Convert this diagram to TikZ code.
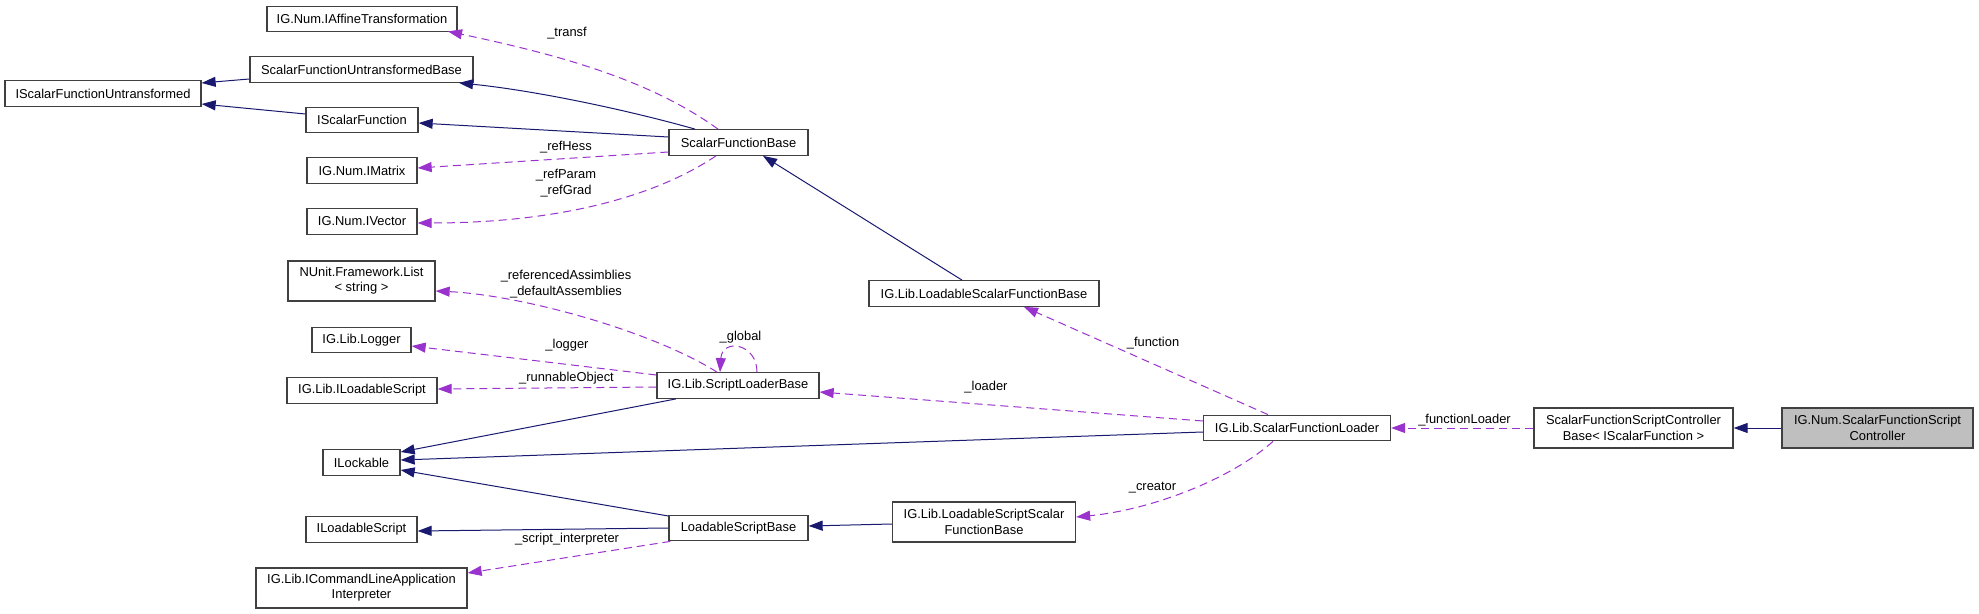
\documentclass[tikz,border=0pt]{standalone}
\usepackage{fontspec}
\setmainfont{Liberation Sans}
\usetikzlibrary{arrows.meta}
\definecolor{navyc}{HTML}{191970}
\definecolor{purp}{HTML}{9A32CD}
\definecolor{boxgray}{HTML}{BFBFBF}
\begin{document}
\begin{tikzpicture}[x=0.5pt,y=-0.5pt,
  font=\fontsize{6.45}{7.65}\selectfont,
  box/.style={draw=black!75, line width=0.65pt, fill=white, inner sep=0pt, minimum height=12.75pt, align=center},
  boxtwo/.style={box, minimum height=20pt},
  inh/.style={draw=navyc, line width=0.5pt, -{Triangle[length=7pt,width=5pt]}},
  use/.style={draw=purp, line width=0.5pt, dash pattern=on 4pt off 2.5pt, -{Triangle[length=7pt,width=5pt]}},
  lbl/.style={inner sep=0pt, align=center}]
\fill[white] (0,0) rectangle (1979,614);
\useasboundingbox (0,0) rectangle (1979,614);
% nodes
\node[box, minimum width=95pt] (aff) at (362,19) {IG.Num.IAffineTransformation};
\node[box, minimum width=111.5pt] (sfub) at (361.5,69.5) {ScalarFunctionUntransformedBase};
\node[box, minimum width=98pt] (isfu) at (103,93.5) {IScalarFunctionUntransformed};
\node[box, minimum width=56pt] (isf) at (362,120) {IScalarFunction};
\node[box, minimum width=55pt] (imat) at (362,170.5) {IG.Num.IMatrix};
\node[box, minimum width=55pt] (ivec) at (362,221.5) {IG.Num.IVector};
\node[boxtwo, minimum width=73.5pt] (list) at (361.5,281) {NUnit.Framework.List\\< string >};
\node[box, minimum width=49.5pt] (logger) at (361.5,340) {IG.Lib.Logger};
\node[box, minimum width=75pt] (ilsa) at (362,390.5) {IG.Lib.ILoadableScript};
\node[box, minimum width=38.5pt] (ilock) at (361.5,462.5) {ILockable};
\node[box, minimum width=55.5pt] (ils) at (361.5,529.5) {ILoadableScript};
\node[boxtwo, minimum width=105.5pt] (icmd) at (361.5,588) {IG.Lib.ICommandLineApplication\\Interpreter};
\node[box, minimum width=69.5pt] (sfb) at (738.5,142.5) {ScalarFunctionBase};
\node[box, minimum width=81pt] (slb) at (738,385.5) {IG.Lib.ScriptLoaderBase};
\node[box, minimum width=69.5pt] (lsb) at (738.5,528) {LoadableScriptBase};
\node[box, minimum width=115pt] (lsfb) at (984,293.5) {IG.Lib.LoadableScalarFunctionBase};
\node[boxtwo, minimum width=91.5pt] (lssfb) at (984,522) {IG.Lib.LoadableScriptScalar\\FunctionBase};
\node[box, minimum width=93.5pt] (sfl) at (1297,428) {IG.Lib.ScalarFunctionLoader};
\node[boxtwo, minimum width=99.5pt] (cbase) at (1633.5,428) {ScalarFunctionScriptController\\Base< IScalarFunction >};
\node[boxtwo, minimum width=95.5pt, fill=boxgray] (ctrl) at (1877.5,428) {IG.Num.ScalarFunctionScript\\Controller};
% inheritance edges
\draw[inh] ([yshift=-4.75pt]sfub.west) -- ([yshift=5.25pt]isfu.east);
\draw[inh] ([yshift=3pt]isf.west) -- ([yshift=-5.25pt]isfu.east);
\draw[inh] ([xshift=-21.75pt]sfb.north) .. controls (620,108) and (530,90) .. ([xshift=48.75pt]sfub.south);
\draw[inh] ([yshift=2.75pt]sfb.west) -- ([yshift=-1.5pt]isf.east);
\draw[inh] ([xshift=-11pt]lsfb.north) -- ([xshift=12.25pt]sfb.south);
\draw[inh] ([xshift=-31pt]slb.south) -- ([yshift=5.25pt]ilock.east);
\draw[inh] ([yshift=-2pt]sfl.west) -- ([yshift=1.25pt]ilock.east);
\draw[inh] ([yshift=6pt]lsb.west) -- ([yshift=-3.75pt]ilock.east);
\draw[inh] (lsb.west) -- ([yshift=-0.75pt]ils.east);
\draw[inh] ([yshift=-1pt]lssfb.west) -- ([yshift=1pt]lsb.east);
\draw[inh] (ctrl.west) -- (cbase.east);
% usage edges
\draw[use] ([xshift=-10.25pt]sfb.north) .. controls (650,80) and (560,55) .. ([xshift=43pt,yshift=0.5pt]aff.south);
\node[lbl] (ltransf) at (567,33) {\_transf};
\draw[use] ([yshift=-4.75pt]sfb.west) -- ([yshift=1.25pt]imat.east);
\node[lbl] (lhess) at (566,147) {\_refHess};
\draw[use] ([xshift=-11.25pt]sfb.south) .. controls (650,200) and (550,223) .. ([yshift=-0.75pt]ivec.east);
\node[lbl] (lparam) at (566,183) {\_refParam\\\_refGrad};
\draw[use] ([xshift=-10.5pt]slb.north) .. controls (650,330) and (520,295) .. ([yshift=-5pt]list.east);
\node[lbl] (lasm) at (566,284) {\_referencedAssimblies\\\_defaultAssemblies};
\draw[use] ([yshift=5.25pt]slb.west) -- ([yshift=-3pt]logger.east);
\node[lbl] (llogger) at (567,345) {\_logger};
\draw[use] ([yshift=-0.75pt]slb.west) -- ([yshift=0.75pt]ilsa.east);
\node[lbl] (lrun) at (566.5,378) {\_runnableObject};
\draw[use] ([xshift=9.5pt]slb.north) .. controls (757,343) and (722,338) .. ([xshift=-9pt]slb.north);
\node[lbl] (lglobal) at (740.5,337) {\_global};
\draw[use] ([yshift=3.5pt]sfl.west) -- ([yshift=-3.25pt]slb.east);
\node[lbl] (lloader) at (986,387) {\_loader};
\draw[use] ([xshift=-14.5pt]sfl.north) -- ([xshift=20pt]lsfb.south);
\node[lbl] (lfunction) at (1153,343) {\_function};
\draw[use] ([xshift=-12pt]sfl.south) .. controls (1230,480) and (1150,510) .. ([yshift=2.5pt]lssfb.east);
\node[lbl] (lcreator) at (1152.5,488) {\_creator};
\draw[use] (cbase.west) -- (sfl.east);
\node[lbl] (lfl) at (1464.5,420) {\_functionLoader};
\draw[use] ([xshift=1pt]lsb.south west) -- ([yshift=7.5pt]icmd.east);
\node[lbl] (lscript) at (567,539) {\_script\_interpreter};
\end{tikzpicture}
\end{document}
